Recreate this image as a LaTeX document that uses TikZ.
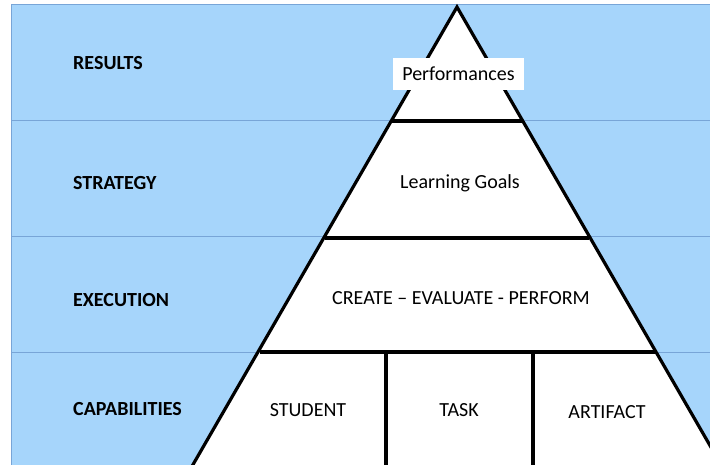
\documentclass[tikz,border=0pt]{standalone}
\usepackage{fontspec}
\setmainfont{Carlito}
\definecolor{bandblue}{RGB}{166,213,251}
\definecolor{bandline}{RGB}{120,165,215}
\begin{document}
\begin{tikzpicture}[x=1pt,y=-1pt,
  lbl/.style={font=\fontsize{20}{22}\selectfont\bfseries, anchor=west, inner sep=0pt},
  txt/.style={font=\fontsize{20}{22}\selectfont, inner sep=0pt},
  pline/.style={line width=3.2pt, black}]
\useasboundingbox (0,0) rectangle (710,465);
\begin{scope}
\clip (0,0) rectangle (710,465);
\fill[bandblue] (11,5) rectangle (712,467);
\draw[bandline, line width=1pt] (11,467) -- (11,5) -- (712,5);
\foreach \yy in {121,237,352} \draw[bandline, line width=1pt] (11,\yy) -- (712,\yy);
\coordinate (apex) at (457,7);
\coordinate (bl) at (187,475);
\coordinate (br) at (727,475);
\fill[white] (apex) -- (bl) -- (br) -- cycle;
\draw[pline, line join=miter] (bl) -- (apex) -- (br);
\draw[pline] (392,121) -- (522,121);
\draw[pline] (325,238) -- (589,238);
\draw[pline] (260,352) -- (655,352);
\draw[pline] (386,352) -- (386,470);
\draw[pline] (533,352) -- (533,470);
\end{scope}
\node[lbl] (results) at (73,63) {RESULTS};
\node[lbl] (strategy) at (73,183) {STRATEGY};
\node[lbl] (execution) at (73,300) {EXECUTION};
\node[lbl] (capabilities) at (73,409) {CAPABILITIES};
\node[txt, fill=white, minimum width=131pt, minimum height=32pt] (perf) at (458.5,74) {Performances};
\node[txt] (goals) at (460,183) {Learning Goals};
\node[txt] (cep) at (461,298) {CREATE – EVALUATE - PERFORM};
\node[txt] (student) at (308,410) {STUDENT};
\node[txt] (task) at (459,410) {TASK};
\node[txt] (artifact) at (607,412) {ARTIFACT};
\end{tikzpicture}
\end{document}
